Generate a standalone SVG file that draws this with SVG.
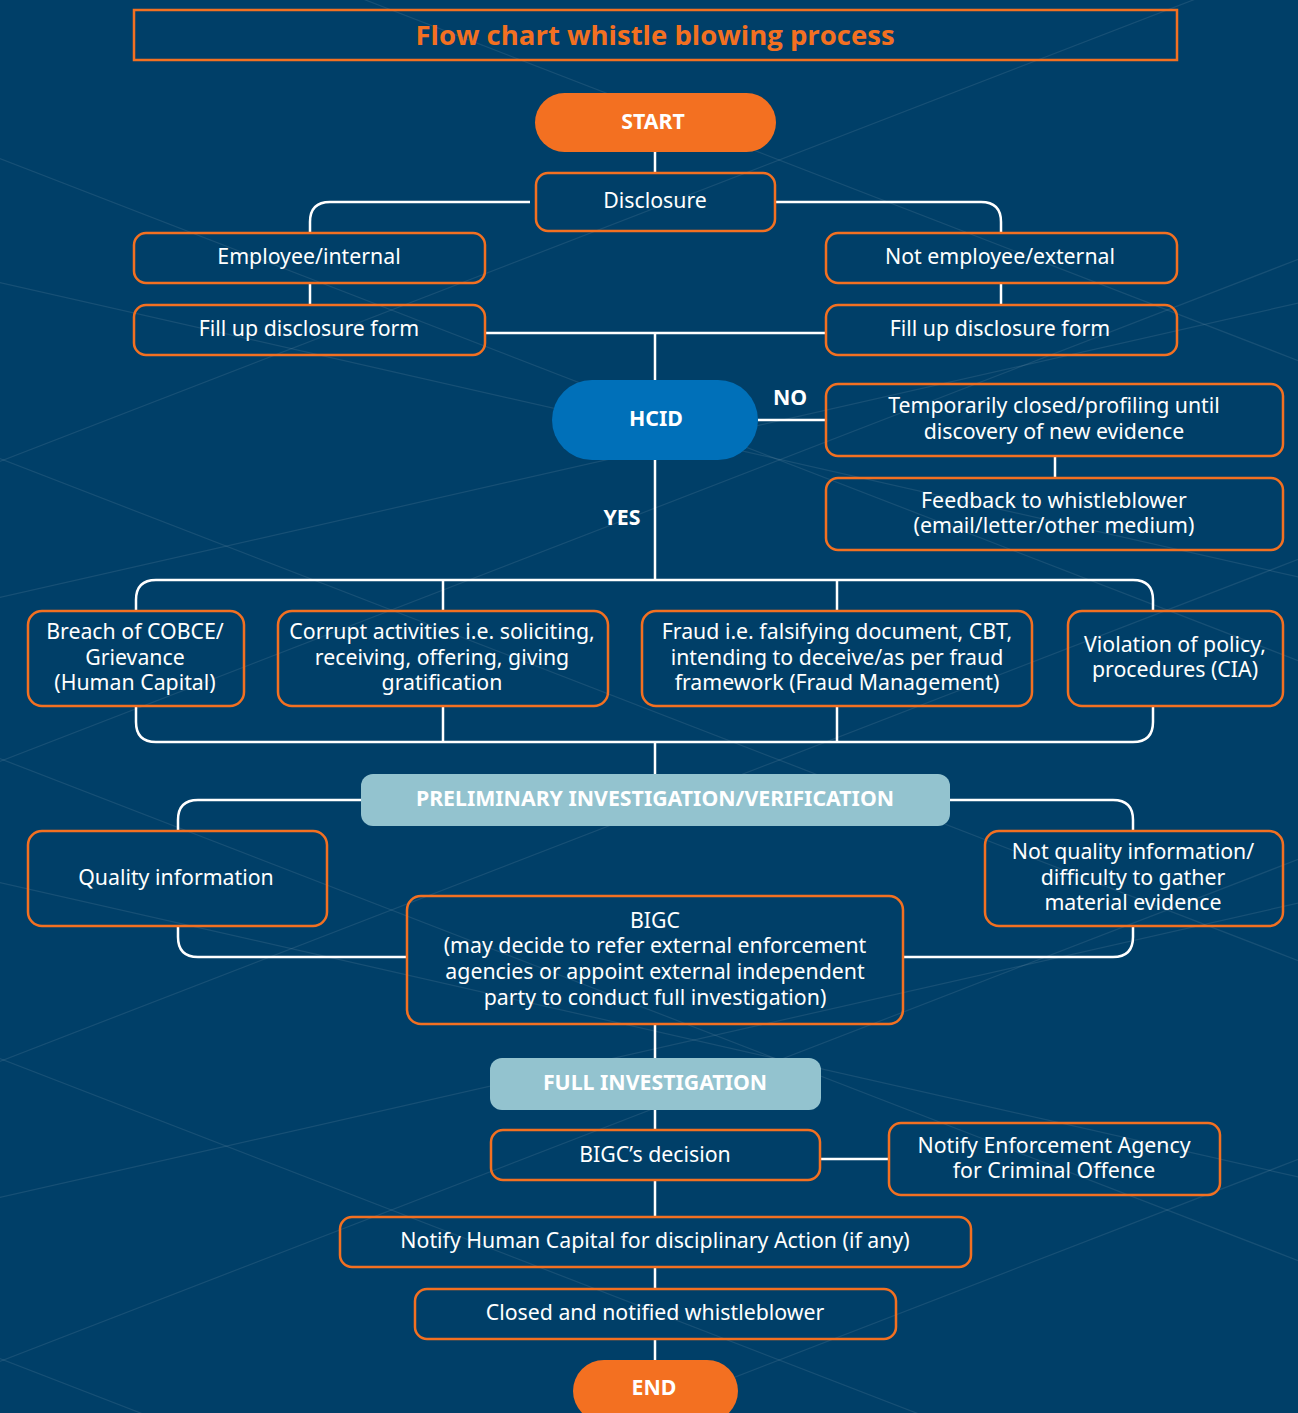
<svg xmlns="http://www.w3.org/2000/svg" width="1298" height="1413" viewBox="0 0 1298 1413">
<style>
.bg{fill:#003f68}
.pat line{stroke:#ffffff;stroke-opacity:0.09;stroke-width:1.2}
.box{fill:none;stroke:#f37021;stroke-width:2.5}
.pill{fill:#f37021}
.hcid{fill:#0070b9}
.stage{fill:#93c3cf}
.conn path,.conn line{fill:none;stroke:#ffffff;stroke-width:2.5}
text{font-family:"Noto Sans","Open Sans","DejaVu Sans",sans-serif;fill:#ffffff;font-size:21.3px;text-anchor:middle}
.b{font-weight:bold}
.title{fill:#f37021;font-size:27.5px;font-weight:bold;font-family:"Open Sans","Noto Sans",sans-serif}
</style>
<rect class="bg" x="0" y="0" width="1298" height="1413"/>
<g class="pat">
<line x1="-100" y1="120" x2="1400" y2="700"/>
<line x1="-100" y1="420" x2="1400" y2="1000"/>
<line x1="-100" y1="720" x2="1400" y2="1300"/>
<line x1="-100" y1="1020" x2="1400" y2="1600"/>
<line x1="-100" y1="-180" x2="1400" y2="400"/>
<line x1="-100" y1="1320" x2="1400" y2="1900"/>
<line x1="-100" y1="500" x2="1400" y2="-80"/>
<line x1="-100" y1="800" x2="1400" y2="220"/>
<line x1="-100" y1="1100" x2="1400" y2="520"/>
<line x1="-100" y1="1400" x2="1400" y2="820"/>
<line x1="-100" y1="1700" x2="1400" y2="1120"/>
<line x1="-100" y1="2000" x2="1400" y2="1420"/>
<line x1="-100" y1="260" x2="1400" y2="600"/>
<line x1="-100" y1="860" x2="1400" y2="1200"/>
<line x1="-100" y1="620" x2="1400" y2="280"/>
<line x1="-100" y1="1220" x2="1400" y2="880"/>
</g>

<g id="title"><rect class="box" x="134" y="10" width="1043" height="50"/><text class="title" x="655" y="45">Flow chart whistle blowing process</text></g>

<g class="conn" id="connectors">
<line x1="655" y1="152" x2="655" y2="173"/>
<path d="M530,202 H330 Q310,202 310,222 V233"/>
<path d="M776,202 H981 Q1001,202 1001,222 V233"/>
<line x1="310" y1="283" x2="310" y2="305"/>
<line x1="1001" y1="283" x2="1001" y2="305"/>
<line x1="485" y1="333" x2="826" y2="333"/>
<line x1="655" y1="333" x2="655" y2="380"/>
<line x1="758" y1="420" x2="826" y2="420"/>
<line x1="1055" y1="456" x2="1055" y2="478"/>
<line x1="655" y1="460" x2="655" y2="580"/>
<path d="M136,611 V600 Q136,580 156,580 H1133 Q1153,580 1153,600 V611"/>
<path d="M136,706 V722 Q136,742 156,742 H1133 Q1153,742 1153,722 V706"/>
<line x1="443" y1="580" x2="443" y2="611"/>
<line x1="443" y1="706" x2="443" y2="742"/>
<line x1="837" y1="580" x2="837" y2="611"/>
<line x1="837" y1="706" x2="837" y2="742"/>
<line x1="655" y1="742" x2="655" y2="774"/>
<path d="M361,800 H198 Q178,800 178,820 V831"/>
<path d="M950,800 H1113 Q1133,800 1133,820 V831"/>
<path d="M178,926 V937 Q178,957 198,957 H407"/>
<path d="M1133,926 V937 Q1133,957 1113,957 H903"/>
<line x1="655" y1="1024" x2="655" y2="1058"/>
<line x1="655" y1="1110" x2="655" y2="1130"/>
<line x1="820" y1="1159" x2="889" y2="1159"/>
<line x1="655" y1="1180" x2="655" y2="1217"/>
<line x1="655" y1="1267" x2="655" y2="1289"/>
<line x1="655" y1="1339" x2="655" y2="1360"/>
</g>

<g id="start"><rect class="pill" x="535" y="93" width="241" height="59" rx="29.5"/><text class="b" x="653" y="129">START</text></g>
<g id="disclosure"><rect class="box" x="536" y="173" width="239" height="58" rx="12"/><text x="655" y="208">Disclosure</text></g>
<g id="employee"><rect class="box" x="134" y="233" width="351" height="50" rx="12"/><text x="309" y="264">Employee/internal</text></g>
<g id="notemployee"><rect class="box" x="826" y="233" width="351" height="50" rx="12"/><text x="1000" y="264">Not employee/external</text></g>
<g id="formleft"><rect class="box" x="134" y="305" width="351" height="50" rx="12"/><text x="309" y="336">Fill up disclosure form</text></g>
<g id="formright"><rect class="box" x="826" y="305" width="351" height="50" rx="12"/><text x="1000" y="336">Fill up disclosure form</text></g>
<g id="hcid"><rect class="hcid" x="552" y="380" width="206" height="80" rx="40"/><text class="b" x="656" y="426">HCID</text></g>
<text class="b" x="790" y="405">NO</text>
<text class="b" x="622" y="525">YES</text>
<g id="tempclosed"><rect class="box" x="826" y="384" width="457" height="72" rx="12"/><text x="1054" y="413">Temporarily closed/profiling until</text><text x="1054" y="439">discovery of new evidence</text></g>
<g id="feedback"><rect class="box" x="826" y="478" width="457" height="72" rx="12"/><text x="1054" y="508">Feedback to whistleblower</text><text x="1054" y="533">(email/letter/other medium)</text></g>
<g id="breach"><rect class="box" x="28" y="611" width="216" height="95" rx="14"/><text x="135" y="639">Breach of COBCE/</text><text x="135" y="665">Grievance</text><text x="135" y="690">(Human Capital)</text></g>
<g id="corrupt"><rect class="box" x="278" y="611" width="330" height="95" rx="14"/><text x="442" y="639">Corrupt activities i.e. soliciting,</text><text x="442" y="665">receiving, offering, giving</text><text x="442" y="690">gratification</text></g>
<g id="fraud"><rect class="box" x="642" y="611" width="390" height="95" rx="14"/><text x="837" y="639">Fraud i.e. falsifying document, CBT,</text><text x="837" y="665">intending to deceive/as per fraud</text><text x="837" y="690">framework (Fraud Management)</text></g>
<g id="violation"><rect class="box" x="1068" y="611" width="215" height="95" rx="14"/><text x="1175" y="652">Violation of policy,</text><text x="1175" y="677">procedures (CIA)</text></g>
<g id="prelim"><rect class="stage" x="361" y="774" width="589" height="52" rx="12"/><text class="b" x="655" y="806">PRELIMINARY INVESTIGATION/VERIFICATION</text></g>
<g id="quality"><rect class="box" x="28" y="831" width="299" height="95" rx="14"/><text x="176" y="885">Quality information</text></g>
<g id="notquality"><rect class="box" x="985" y="831" width="298" height="95" rx="14"/><text x="1133" y="859">Not quality information/</text><text x="1133" y="885">difficulty to gather</text><text x="1133" y="910">material evidence</text></g>
<g id="bigc"><rect class="box" x="407" y="896" width="496" height="128" rx="14"/><text x="655" y="928">BIGC</text><text x="655" y="953">(may decide to refer external enforcement</text><text x="655" y="979">agencies or appoint external independent</text><text x="655" y="1005">party to conduct full investigation)</text></g>
<g id="full"><rect class="stage" x="490" y="1058" width="331" height="52" rx="12"/><text class="b" x="655" y="1090">FULL INVESTIGATION</text></g>
<g id="decision"><rect class="box" x="491" y="1130" width="329" height="50" rx="12"/><text x="655" y="1162">BIGC’s decision</text></g>
<g id="enforcement"><rect class="box" x="889" y="1123" width="331" height="72" rx="12"/><text x="1054" y="1153">Notify Enforcement Agency</text><text x="1054" y="1178">for Criminal Offence</text></g>
<g id="hcnotify"><rect class="box" x="340" y="1217" width="631" height="50" rx="12"/><text x="655" y="1248">Notify Human Capital for disciplinary Action (if any)</text></g>
<g id="closed"><rect class="box" x="415" y="1289" width="481" height="50" rx="12"/><text x="655" y="1320">Closed and notified whistleblower</text></g>
<g id="end"><rect class="pill" x="573" y="1360" width="165" height="62" rx="31"/><text class="b" x="654" y="1395">END</text></g>
</svg>
